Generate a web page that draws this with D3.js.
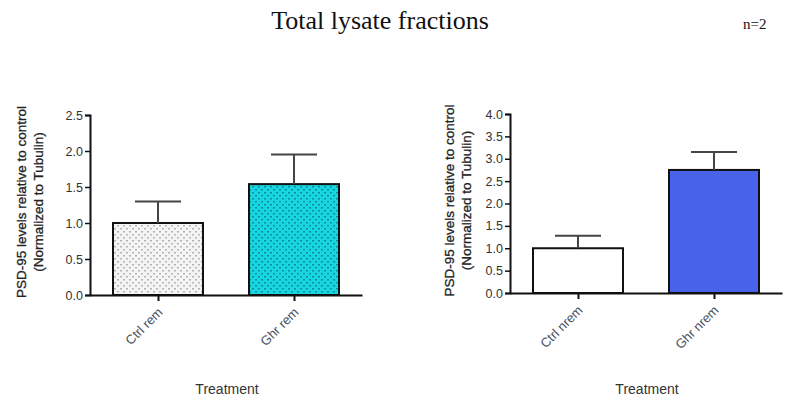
<!DOCTYPE html>
<html>
<head>
<meta charset="utf-8">
<script src="https://cdn.jsdelivr.net/npm/d3@7"></script>
<style>
  html, body { margin: 0; padding: 0; background: #fff; }
  svg { display: block; }
</style>
</head>
<body>
<svg id="chart" width="793" height="403"></svg>
<script>
// Data: PSD-95 levels in total lysate fractions (normalized to Tubulin)
const remCategories = ["Ctrl rem", "Ghr rem"];
const remMeans = [1.0, 1.54];
const remErrors = [0.30, 0.41];
const remTicks = [0, 0.5, 1.0, 1.5, 2.0, 2.5];

const nremCategories = ["Ctrl nrem", "Ghr nrem"];
const nremMeans = [1.0, 2.75];
const nremErrors = [0.28, 0.40];
const nremTicks = [0, 0.5, 1.0, 1.5, 2.0, 2.5, 3.0, 3.5, 4.0];

const yTitleLines = ["PSD-95 levels relative to control", "(Normalized to Tubulin)"];
const xTitle = "Treatment";

const svg = d3.select("#chart");

// Dotted fills
const defs = svg.append("defs");
function dotPattern(id, bg, dot) {
  const p = defs.append("pattern")
    .attr("id", id).attr("patternUnits", "userSpaceOnUse")
    .attr("width", 6).attr("height", 6);
  p.append("rect").attr("width", 6).attr("height", 6).attr("fill", bg);
  p.append("rect").attr("x", 0).attr("y", 0).attr("width", 2).attr("height", 1.5).attr("fill", dot);
  p.append("rect").attr("x", 3).attr("y", 3).attr("width", 2).attr("height", 1.5).attr("fill", dot);
}
dotPattern("dotsGray", "#f4f4f4", "#b4b4b4");
dotPattern("dotsCyan", "#17d6e2", "#0f8f99");

svg.append("text")
  .attr("x", 380).attr("y", 29)
  .attr("text-anchor", "middle")
  .attr("font-family", "'Liberation Serif', 'Times New Roman', serif")
  .attr("font-size", 26).attr("fill", "#111")
  .text("Total lysate fractions");

svg.append("text")
  .attr("x", 743).attr("y", 29)
  .attr("font-family", "'Liberation Serif', 'Times New Roman', serif")
  .attr("font-size", 15).attr("fill", "#111")
  .text("n=2");

function drawPanel(cfg) {
  const { categories, means, errors, ticks, yMax, left, right, top, bottom, fills, yTitleX, xTitleX } = cfg;
  const g = svg.append("g");
  const font = "'Liberation Sans', Arial, sans-serif";

  const y = d3.scaleLinear().domain([0, yMax]).range([bottom, top]);
  const x = d3.scalePoint().domain(categories).range([left, right]).padding(0.5);
  const barW = 90;
  const capW = 46;

  // Bars
  g.selectAll("rect.bar").data(categories).join("rect")
    .attr("class", "bar")
    .attr("x", d => x(d) - barW / 2)
    .attr("width", barW)
    .attr("y", (d, i) => y(means[i]))
    .attr("height", (d, i) => y(0) - y(means[i]))
    .attr("fill", (d, i) => fills[i])
    .attr("stroke", "#111").attr("stroke-width", 2);

  // Error bars (upper only)
  g.selectAll("line.err").data(categories).join("line")
    .attr("class", "err")
    .attr("x1", d => x(d)).attr("x2", d => x(d))
    .attr("y1", (d, i) => y(means[i]))
    .attr("y2", (d, i) => y(means[i] + errors[i]))
    .attr("stroke", "#444").attr("stroke-width", 2);
  g.selectAll("line.cap").data(categories).join("line")
    .attr("class", "cap")
    .attr("x1", d => x(d) - capW / 2).attr("x2", d => x(d) + capW / 2)
    .attr("y1", (d, i) => y(means[i] + errors[i]))
    .attr("y2", (d, i) => y(means[i] + errors[i]))
    .attr("stroke", "#444").attr("stroke-width", 2);

  // Y axis
  const yAxis = g.append("g")
    .attr("transform", `translate(${left},0)`)
    .call(d3.axisLeft(y).tickValues(ticks).tickFormat(d3.format(".1f")).tickSize(5).tickPadding(2));
  yAxis.select(".domain").attr("stroke", "#111").attr("stroke-width", 2);
  yAxis.selectAll(".tick line").attr("stroke", "#111").attr("stroke-width", 1.5);
  yAxis.selectAll(".tick text")
    .attr("font-family", font).attr("font-size", 12.5).attr("fill", "#333");

  // X axis
  const xAxis = g.append("g")
    .attr("transform", `translate(0,${bottom})`)
    .call(d3.axisBottom(x).tickSize(6).tickSizeOuter(0));
  xAxis.select(".domain").attr("stroke", "#111").attr("stroke-width", 2);
  xAxis.selectAll(".tick line").attr("stroke", "#111").attr("stroke-width", 2);
  xAxis.selectAll(".tick text")
    .attr("font-family", font).attr("font-size", 13).attr("fill", "#4a4f5c")
    .attr("text-anchor", "end")
    .attr("dy", 0).attr("y", 0)
    .attr("transform", "translate(5,18) rotate(-45)");

  // Axis titles
  yTitleLines.forEach((t, i) => {
    g.append("text")
      .attr("transform", `translate(${yTitleX + i * 17},${(top + bottom) / 2 - 3}) rotate(-90)`)
      .attr("text-anchor", "middle")
      .attr("font-family", font).attr("font-size", 13.5)
      .attr("fill", "#222")
      .style("stroke", "#222").style("stroke-width", 0.3)
      .text(t);
  });

  g.append("text")
    .attr("x", xTitleX).attr("y", 394)
    .attr("text-anchor", "middle")
    .attr("font-family", font).attr("font-size", 14)
    .attr("fill", "#333")
    .text(xTitle);
}

drawPanel({
  categories: remCategories, means: remMeans, errors: remErrors, ticks: remTicks,
  yMax: 2.5, left: 90, right: 362, top: 115, bottom: 295,
  fills: ["url(#dotsGray)", "url(#dotsCyan)"],
  yTitleX: 26, xTitleX: 227
});

drawPanel({
  categories: nremCategories, means: nremMeans, errors: nremErrors, ticks: nremTicks,
  yMax: 4.0, left: 510, right: 782, top: 114, bottom: 293,
  fills: ["#ffffff", "#4863e9"],
  yTitleX: 454, xTitleX: 647
});
</script>
</body>
</html>
